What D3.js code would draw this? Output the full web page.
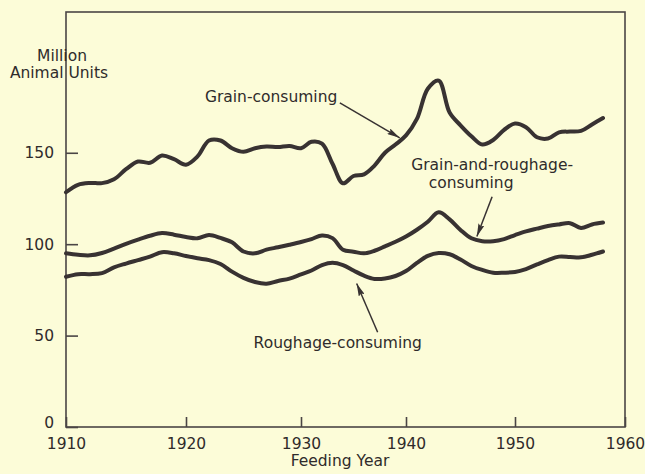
<!DOCTYPE html>
<html>
<head>
<meta charset="utf-8">
<script src="https://cdn.jsdelivr.net/npm/d3@7"></script>
<style>
  html, body { margin: 0; padding: 0; background: #fcfcd8; }
  svg { display: block; font-family: "DejaVu Sans", sans-serif; }
</style>
</head>
<body>
<svg id="livestock-chart" width="645" height="474"></svg>
<script>
// feeding years
const years = [1910, 1911, 1912, 1913, 1914, 1915, 1916, 1917, 1918, 1919,
    1920, 1921, 1922, 1923, 1924, 1925, 1926, 1927, 1928, 1929,
    1930, 1931, 1932, 1933, 1934, 1935, 1936, 1937, 1938, 1939,
    1940, 1941, 1942, 1943, 1944, 1945, 1946, 1947, 1948, 1949,
    1950, 1951, 1952, 1953, 1954, 1955, 1956, 1957, 1958];

// million animal units
const grain = [128.4, 132.5, 133.5, 133.4, 135.5, 141, 145.2, 144.5, 148.5, 146.5,
    143.5, 148, 156.7, 156.7, 152.5, 150.5, 152.5, 153.4, 153.1, 153.7,
    152.5, 156, 155, 144, 133.3, 137.3, 138.2, 143, 150, 154.5,
    159.5, 168.5, 185, 189.5, 172, 165, 159, 154.5, 157, 162.5,
    166, 164, 158.5, 157.8, 161.2, 161.6, 162, 165.5, 169];

const grainRoughage = [95, 94.2, 93.9, 95.2, 97.6, 100.2, 102.5, 104.6, 106.1, 105.2,
    103.9, 103.2, 105, 103.4, 101, 96, 95, 97, 98.3, 99.7,
    101.2, 102.8, 104.8, 103.3, 96.9, 95.9, 95, 96.4, 98.8, 101.3,
    104.2, 107.9, 112.3, 117.4, 113.6, 107.8, 103.2, 101.6, 101.6, 102.8,
    105, 107, 108.5, 109.9, 110.8, 111.5, 108.9, 110.8, 111.8];

const roughage = [82.2, 83.6, 83.6, 84.2, 87.3, 89.4, 91.3, 93.2, 95.6, 95,
    93.5, 92.3, 91.3, 89.2, 85, 81.6, 79.3, 78.4, 79.9, 81.2,
    83.5, 85.6, 88.5, 89.8, 88.5, 85.6, 82.8, 81, 81.2, 82.6,
    85.3, 89.8, 93.6, 95.2, 94.5, 91.6, 88.1, 85.9, 84.4, 84.4,
    84.8, 86.4, 88.9, 91.3, 93.2, 93, 92.8, 94.2, 96];

// axis ticks
const xTicks = [1910, 1920, 1930, 1940, 1950, 1960];
const yTicks = [0, 50, 100, 150];

// labels and arrows, in data units
const labels = [
    { lines: ["Grain-consuming"], year: 1927.4, value: 180.5 },
    { lines: ["Grain-and-roughage-", "consuming"], year: 1947.9, value: 143.5 },
    { lines: ["Roughage-consuming"], year: 1933.5, value: 45.8 }
];
const arrows = [
    { from: [1933.7, 177.3], to: [1939.4, 158.2] },
    { from: [1947.9, 126], to: [1946.5, 104.2] },
    { from: [1937.3, 51.8], to: [1935.3, 78.5] }
];

const svg = d3.select("#livestock-chart");
const ink = "#383232";
const textInk = "#2f2b2b";
const fontSize = "15.5px";

// scales (the hand-drawn x axis is a bit uneven, so the decades get their own stops)
const x = d3.scaleLinear()
    .domain(xTicks)
    .range([66, 186, 301, 406, 515, 625]);

const y = d3.scaleLinear()
    .domain([0, 227])
    .range([427, 12]);

// frame
svg.append("rect")
    .attr("x", x(1910))
    .attr("y", y(227))
    .attr("width", x(1960) - x(1910))
    .attr("height", y(0) - y(227))
    .attr("fill", "none")
    .attr("stroke", "#4a4545")
    .attr("stroke-width", 1.6);

// y axis, ticks point inward
const yAxis = svg.append("g")
    .attr("transform", `translate(${x(1910)},0)`)
    .call(d3.axisLeft(y).tickValues(yTicks).tickSizeInner(-12).tickSizeOuter(0).tickPadding(12));

// x axis
const xAxis = svg.append("g")
    .attr("transform", `translate(0,${y(0)})`)
    .call(d3.axisBottom(x).tickValues(xTicks).tickFormat(d3.format("d"))
        .tickSizeInner(-10).tickSizeOuter(0).tickPadding(11));

[yAxis, xAxis].forEach(g => {
    g.select(".domain").remove();
    g.selectAll("line").attr("stroke", "#4a4545").attr("stroke-width", 1.6);
    g.selectAll("text")
        .attr("fill", textInk)
        .style("font-size", fontSize)
        .style("font-family", "DejaVu Sans, sans-serif");
});

// the 0 label sits a little above the corner, clear of 1910
yAxis.selectAll(".tick text")
    .filter(d => d === 0)
    .attr("y", -4);

// axis titles
svg.append("text")
    .attr("x", 62).attr("y", 61)
    .attr("text-anchor", "middle")
    .attr("fill", textInk).style("font-size", fontSize)
    .text("Million");
svg.append("text")
    .attr("x", 59).attr("y", 78)
    .attr("text-anchor", "middle")
    .attr("fill", textInk).style("font-size", fontSize)
    .text("Animal Units");
svg.append("text")
    .attr("x", 340).attr("y", 466)
    .attr("text-anchor", "middle")
    .attr("fill", textInk).style("font-size", fontSize)
    .text("Feeding Year");

// lines
const line = d3.line()
    .x((d, i) => x(years[i]))
    .y(d => y(d))
    .curve(d3.curveCatmullRom.alpha(0.5));

[grain, grainRoughage, roughage].forEach(values => {
    svg.append("path")
        .datum(values)
        .attr("fill", "none")
        .attr("stroke", ink)
        .attr("stroke-width", 4)
        .attr("stroke-linejoin", "round")
        .attr("stroke-linecap", "round")
        .attr("d", line);
});

// arrowhead
svg.append("defs").append("marker")
    .attr("id", "arrowhead")
    .attr("viewBox", "0 0 12 6")
    .attr("refX", 12)
    .attr("refY", 3)
    .attr("markerUnits", "userSpaceOnUse")
    .attr("markerWidth", 13)
    .attr("markerHeight", 6.5)
    .attr("orient", "auto")
    .append("path")
    .attr("d", "M0,0 L12,3 L0,6 L2,3 Z")
    .attr("fill", ink);

svg.selectAll(".arrow")
    .data(arrows)
    .enter()
    .append("line")
    .attr("class", "arrow")
    .attr("x1", d => x(d.from[0]))
    .attr("y1", d => y(d.from[1]))
    .attr("x2", d => x(d.to[0]))
    .attr("y2", d => y(d.to[1]))
    .attr("stroke", ink)
    .attr("stroke-width", 1.5)
    .attr("marker-end", "url(#arrowhead)");

// series labels
labels.forEach(d => {
    const t = svg.append("text")
        .attr("text-anchor", "middle")
        .attr("fill", textInk)
        .style("font-size", fontSize);
    d.lines.forEach((s, i) => {
        t.append("tspan")
            .attr("x", x(d.year) - (i ? 21 : 0))
            .attr("y", y(d.value) + 5 + i * 18)
            .text(s);
    });
});
</script>
</body>
</html>
